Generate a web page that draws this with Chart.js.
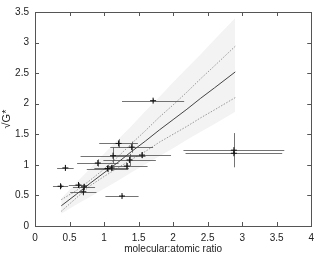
<!DOCTYPE html>
<html>
<head>
<meta charset="utf-8">
<script src="https://cdn.jsdelivr.net/npm/chart.js@4/dist/chart.umd.min.js"></script>
<style>
  html, body { margin: 0; padding: 0; background: #fff; }
  #wrap { width: 320px; height: 255px; }
</style>
</head>
<body>
<div id="wrap"><canvas id="grafico" width="320" height="255"></canvas></div>
<script>
// measurements: molecular:atomic ratio vs sqrt(G*)
const ptX    = [1.21, 1.40, 1.55, 1.13, 1.37, 0.91, 1.05, 1.11, 1.33, 0.44, 0.37, 0.63, 0.71, 0.70, 1.26, 1.71, 2.88, 2.88];
const ptY    = [1.35, 1.29, 1.16, 1.15, 1.08, 1.03, 0.94, 0.95, 0.98, 0.95, 0.65, 0.67, 0.64, 0.56, 0.49, 2.05, 1.24, 1.19];
const ptXErr = [0.28, 0.31, 0.42, 0.47, 0.38, 0.30, 0.30, 0.25, 0.30, 0.12, 0.11, 0.14, 0.16, 0.19, 0.24, 0.45, 0.73, 0.70];
const ptYErr = [0.07, 0.09, 0.05, 0.13, 0.10, 0.06, 0.06, 0.05, 0.05, 0.04, 0.03, 0.03, 0.05, 0.06, 0.02, 0.03, 0.28, 0.03];

// regression line, confidence (dotted) and shaded band
const fitX      = [0.38, 0.6, 0.8, 1.0, 1.2, 1.4, 1.6, 1.8, 2.0, 2.2, 2.4, 2.6, 2.9];
const fitY      = [0.33, 0.52, 0.70, 0.87, 1.04, 1.22, 1.39, 1.57, 1.74, 1.91, 2.09, 2.26, 2.52];
const ciUpper   = [0.43, 0.58, 0.75, 0.93, 1.13, 1.35, 1.56, 1.78, 1.98, 2.19, 2.41, 2.62, 2.94];
const ciLower   = [0.24, 0.46, 0.66, 0.81, 0.95, 1.09, 1.22, 1.37, 1.50, 1.63, 1.77, 1.90, 2.10];
const bandUpper = [0.45, 0.71, 0.94, 1.18, 1.41, 1.64, 1.88, 2.11, 2.35, 2.58, 2.81, 3.05, 3.40];
const bandLower = [0.20, 0.35, 0.48, 0.61, 0.74, 0.88, 1.01, 1.14, 1.27, 1.41, 1.54, 1.67, 1.87];

const xTicks = [0, 0.5, 1, 1.5, 2, 2.5, 3, 3.5, 4];
const yTicks = [0, 0.5, 1, 1.5, 2, 2.5, 3, 3.5];

const toPts = (xs, ys) => xs.map((x, i) => ({ x: x, y: ys[i] }));

// barras de erro, desenhadas antes dos pontos
const errorBars = {
    id: 'errorBars',
    beforeDatasetDraw(chart, args) {
        if (args.index !== 5) return;
        const xs = chart.scales.x, ys = chart.scales.y;
        const ctx = chart.ctx;
        ctx.save();
        ctx.strokeStyle = 'rgba(70,70,70,0.75)';
        ctx.lineWidth = 1;
        for (let i = 0; i < ptX.length; i++) {
            const px = Math.round(xs.getPixelForValue(ptX[i])) + 0.5;
            const py = Math.round(ys.getPixelForValue(ptY[i])) + 0.5;
            ctx.beginPath();
            ctx.moveTo(xs.getPixelForValue(ptX[i] - ptXErr[i]), py);
            ctx.lineTo(xs.getPixelForValue(ptX[i] + ptXErr[i]), py);
            ctx.moveTo(px, ys.getPixelForValue(ptY[i] - ptYErr[i]));
            ctx.lineTo(px, ys.getPixelForValue(ptY[i] + ptYErr[i]));
            ctx.stroke();
        }
        ctx.restore();
    }
};

// caixa em volta do grafico com ticks para dentro
const boxTicks = {
    id: 'boxTicks',
    afterDatasetsDraw(chart) {
        const a = chart.chartArea;
        const xs = chart.scales.x, ys = chart.scales.y;
        const ctx = chart.ctx;
        const len = 4;
        ctx.save();
        ctx.strokeStyle = '#555';
        ctx.lineWidth = 1;
        ctx.strokeRect(Math.round(a.left) + 0.5, Math.round(a.top) + 0.5, Math.round(a.right - a.left), Math.round(a.bottom - a.top));
        ctx.beginPath();
        xTicks.forEach(v => {
            const p = Math.round(xs.getPixelForValue(v)) + 0.5;
            ctx.moveTo(p, a.bottom); ctx.lineTo(p, a.bottom - len);
            ctx.moveTo(p, a.top); ctx.lineTo(p, a.top + len);
        });
        yTicks.forEach(v => {
            const p = Math.round(ys.getPixelForValue(v)) + 0.5;
            ctx.moveTo(a.left, p); ctx.lineTo(a.left + len, p);
            ctx.moveTo(a.right, p); ctx.lineTo(a.right - len, p);
        });
        ctx.stroke();
        ctx.restore();
    }
};

const fonte = { family: 'Liberation Sans, Arial, sans-serif', size: 10 };

const ctx = document.getElementById('grafico').getContext('2d');

new Chart(ctx, {
    type: 'scatter',
    data: {
        datasets: [
            {
                data: toPts(fitX, bandLower),
                showLine: true, borderWidth: 0, borderColor: 'rgba(0,0,0,0)',
                pointRadius: 0, fill: false, order: 6
            },
            {
                data: toPts(fitX, bandUpper),
                showLine: true, borderWidth: 0, borderColor: 'rgba(0,0,0,0)',
                backgroundColor: '#f3f3f3',
                pointRadius: 0, fill: '-1', order: 5
            },
            {
                data: toPts(fitX, ciUpper),
                showLine: true, borderWidth: 1, borderColor: '#999', borderDash: [1.5, 1.5],
                pointRadius: 0, fill: false, order: 3
            },
            {
                data: toPts(fitX, ciLower),
                showLine: true, borderWidth: 1, borderColor: '#999', borderDash: [1.5, 1.5],
                pointRadius: 0, fill: false, order: 3
            },
            {
                data: toPts(fitX, fitY),
                showLine: true, borderWidth: 1, borderColor: '#444',
                pointRadius: 0, fill: false, order: 2
            },
            {
                data: toPts(ptX, ptY),
                pointStyle: 'cross', pointRadius: 3, pointBorderWidth: 1,
                borderColor: '#111', backgroundColor: '#111', order: 1
            }
        ]
    },
    options: {
        responsive: false,
        animation: false,
        events: [],
        layout: { padding: { top: 5, right: 5, left: 0, bottom: 0 } },
        plugins: {
            legend: { display: false },
            tooltip: { enabled: false }
        },
        scales: {
            x: {
                type: 'linear', min: 0, max: 4,
                afterBuildTicks: s => { s.ticks = xTicks.map(v => ({ value: v })); },
                afterFit: s => { s.height = 29; },
                grid: { display: false, drawTicks: false },
                border: { display: false },
                ticks: { padding: 6, color: '#222', font: fonte, callback: v => String(v) },
                title: {
                    display: true, text: 'molecular:atomic ratio', color: '#222', padding: { top: 2, bottom: 0 },
                    font: fonte
                }
            },
            y: {
                type: 'linear', min: 0, max: 3.5,
                afterBuildTicks: s => { s.ticks = yTicks.map(v => ({ value: v })); },
                afterFit: s => { s.width = 35; },
                grid: { display: false, drawTicks: false },
                border: { display: false },
                ticks: { padding: 6, color: '#222', font: fonte, callback: v => String(v) },
                title: {
                    display: true, text: '√G*', color: '#222', padding: { top: 0, bottom: 2 },
                    font: { family: 'Liberation Sans, Arial, sans-serif', size: 11 }
                }
            }
        }
    },
    plugins: [errorBars, boxTicks]
});
</script>
</body>
</html>
